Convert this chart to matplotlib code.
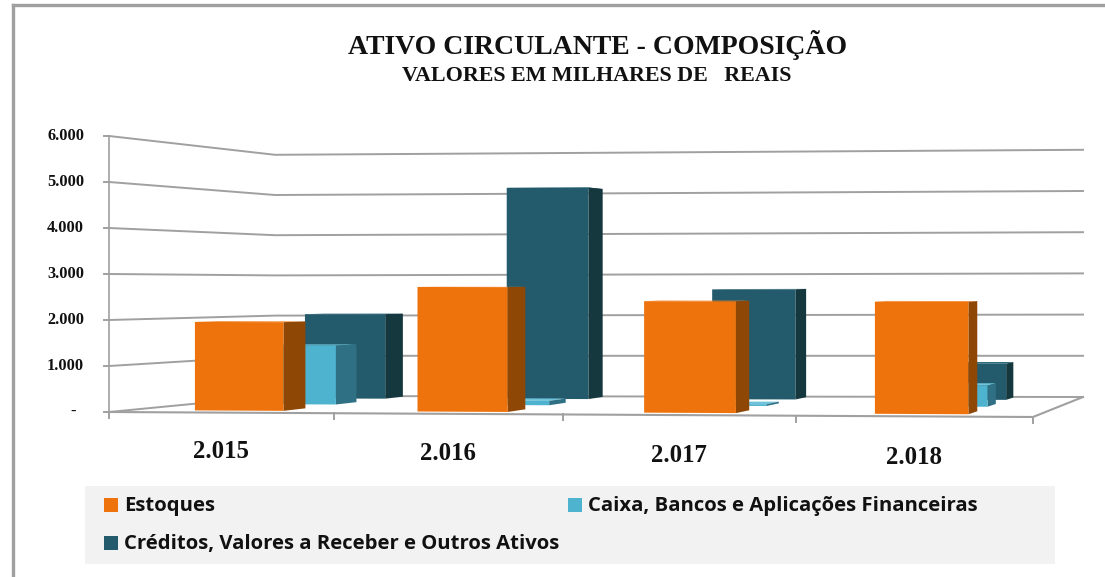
import numpy as np
import matplotlib
matplotlib.use("Agg")
import matplotlib.pyplot as plt
from matplotlib.patches import Polygon, Rectangle

years = ["2.015", "2.016", "2.017", "2.018"]
estoques = [1950, 2730, 2430, 2430]
caixa = [1360, 100, 40, 480]
creditos = [2050, 5100, 2640, 860]
y_ticks = [0, 1000, 2000, 3000, 4000, 5000, 6000]
y_labels = ["-", "1.000", "2.000", "3.000", "4.000", "5.000", "6.000"]
legend_names = ["Estoques", "Caixa, Bancos e Aplicações Financeiras",
                "Créditos, Valores a Receber e Outros Ativos"]

ORANGE = ("#EF730C", "#8F4706", "#F28A33")
CYAN = ("#4EB3CE", "#2F7085", "#6FC3DA")
TEAL = ("#245B6C", "#15383F", "#2F6C7E")
GRID = "#A0A0A0"

# floor corners in pixels: front left, front right, back right, back left
floor = np.array([[109, 412], [1033, 417], [1083, 397], [275, 396]], dtype=float)
# pixels per 1000 at the same corners
scale = np.array([46.0, 47.0, 41.2, 40.2])
WARP = 0.037


def project(u, w, v=0.0):
    # u across the categories, w into the depth, v up the value axis
    u = u / (1 + WARP * (1 - u))
    c = np.array([(1 - u) * (1 - w), u * (1 - w), u * w, (1 - u) * w])
    x, y = c @ floor
    return x, y - v / 1000 * (c @ scale)


def draw_bar(ax, i, val, u_off, w0, w1, cols, zorder):
    u0 = (i + u_off) / 4
    u1 = (i + u_off + 0.40) / 4
    front = [project(u0, w0), project(u1, w0), project(u1, w0, val), project(u0, w0, val)]
    side = [project(u1, w0), project(u1, w1), project(u1, w1, val), project(u1, w0, val)]
    top = [project(u0, w0, val), project(u1, w0, val), project(u1, w1, val), project(u0, w1, val)]
    ax.add_patch(Polygon(top, fc=cols[2], ec="none", zorder=zorder))
    ax.add_patch(Polygon(side, fc=cols[1], ec="none", zorder=zorder))
    ax.add_patch(Polygon(front, fc=cols[0], ec="none", zorder=zorder))


fig = plt.figure(figsize=(11.05, 5.77), dpi=100)
ax = fig.add_axes([0, 0, 1, 1])
ax.set_xlim(0, 1105)
ax.set_ylim(577, 0)
ax.axis("off")

# outer frame
ax.plot([13, 13], [577, 5], color="#A0A0A0", lw=2.4, zorder=1)
ax.plot([13, 1105], [5, 5], color="#A0A0A0", lw=2.4, zorder=1)

# walls
for val, lab in zip(y_ticks, y_labels):
    pts = [project(0, 0, val), project(0, 1, val), project(1, 1, val)]
    ax.plot(*zip(*pts), color=GRID, lw=1.4, zorder=2)
    x0, y0 = pts[0]
    ax.plot([x0 - 5, x0], [y0, y0], color=GRID, lw=1.4, zorder=2)
    ax.text(84 if val else 76, y0, lab, ha="right", va="center", family="Liberation Serif",
            fontweight="bold", fontsize=11.8, color="#111111")
ax.plot(*zip(project(0, 0), project(0, 0, 6000)), color=GRID, lw=1.2, zorder=2)

# floor
ax.plot(*zip(project(0, 0), project(1, 0), project(1, 1)), color=GRID, lw=1.5, zorder=2)
for i in range(5):
    x0, y0 = project(i / 4, 0)
    ax.plot([x0, x0], [y0, y0 + 6], color=GRID, lw=1.4, zorder=2)

# bars, back series first
for i in range(4):
    draw_bar(ax, i, creditos[i], 0.275, 0.85, 0.97, TEAL, 3)
    draw_bar(ax, i, caixa[i], 0.285, 0.50, 0.64, CYAN, 4)
    draw_bar(ax, i, estoques[i], 0.30, 0.12, 0.27, ORANGE, 5)

for i, year in enumerate(years):
    xa, ya = project(i / 4, 0)
    xb, yb = project((i + 1) / 4, 0)
    ax.text((xa + xb) / 2, (ya + yb) / 2 + 39 + 0.6 * i, year, ha="center", va="center",
            family="Liberation Serif", fontweight="bold", fontsize=17.8, color="#111111")

ax.text(598, 45, "ATIVO CIRCULANTE - COMPOSIÇÃO", ha="center", va="center",
        family="Liberation Serif", fontweight="bold", fontsize=20, color="#111111")
ax.text(597, 76, "VALORES EM MILHARES DE   REAIS", ha="center", va="center",
        family="Liberation Serif", fontweight="bold", fontsize=15.8, color="#111111")

# legend
ax.add_patch(Rectangle((85, 486), 970, 78, fc="#F2F2F2", ec="none", zorder=1))
legend_pos = [(104, 505), (568, 505), (104, 543)]
for name, (lx, ly), cols in zip(legend_names, legend_pos, [ORANGE, CYAN, TEAL]):
    ax.add_patch(Rectangle((lx, ly - 7), 14, 14, fc=cols[0], ec="none", zorder=2))
    ax.text(lx + 20, ly + 1, name, ha="left", va="center", family="Open Sans",
            fontweight="bold", fontsize=14.6, color="#111111", zorder=2)

fig.savefig("out.png", dpi=100)
